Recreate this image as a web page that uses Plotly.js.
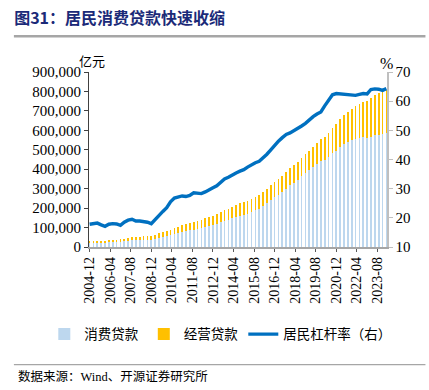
<!DOCTYPE html>
<html>
<head>
<meta charset="utf-8">
<script src="https://cdn.plot.ly/plotly-3.0.1.min.js"></script>
<style>html,body{margin:0;padding:0;background:#fff;}#chart{width:429px;height:390px;}</style>
</head>
<body>
<div id="chart"></div>
<script>
const quarters = ['2004-12',
'2005-03','2005-06','2005-09','2005-12','2006-03','2006-06','2006-09','2006-12',
'2007-03','2007-06','2007-09','2007-12','2008-03','2008-06','2008-09','2008-12',
'2009-03','2009-06','2009-09','2009-12','2010-03','2010-06','2010-09','2010-12',
'2011-03','2011-06','2011-09','2011-12','2012-03','2012-06','2012-09','2012-12',
'2013-03','2013-06','2013-09','2013-12','2014-03','2014-06','2014-09','2014-12',
'2015-03','2015-06','2015-09','2015-12','2016-03','2016-06','2016-09','2016-12',
'2017-03','2017-06','2017-09','2017-12','2018-03','2018-06','2018-09','2018-12',
'2019-03','2019-06','2019-09','2019-12','2020-03','2020-06','2020-09','2020-12',
'2021-03','2021-06','2021-09','2021-12','2022-03','2022-06','2022-09','2022-12',
'2023-03','2023-06','2023-09','2023-12','2024-03'];

// 消费贷款 (亿元)
const consumerLoans = [20000,
20200,20900,21600,21800,23200,25000,26200,27000,
29000,31800,34200,34500,36000,37300,38000,37000,
40500,47000,52500,55500,61500,67000,71500,79500,
83000,87000,90000,95000,98000,104000,109000,113000,
120000,127000,133000,140000,147000,153000,159000,164000,
170000,178000,188000,198000,211000,225000,241000,255000,
268000,283000,300000,317000,330000,346000,363000,380000,
395000,410000,426000,443000,449000,464000,482000,496000,
514000,528000,539000,549000,556000,561000,564000,563000,
568000,574000,576000,581000,584000];

// 经营贷款 (亿元)
const businessLoans = [9000,
9300,9600,9900,10200,10800,11500,12300,13000,
14000,15200,16300,17000,18000,19200,20000,20500,
21500,23000,24500,26000,27500,29000,30500,33000,
35000,37000,39000,41000,43000,45000,47000,48000,
50000,53000,56000,58000,60000,63000,65000,67000,
68000,70000,71000,72000,73000,75000,77000,79000,
81000,83000,86000,88000,90000,92000,95000,98000,
100000,104000,107000,110000,116000,124000,130000,136000,
143000,150000,156000,162000,170000,176000,182000,187000,
198000,208000,214000,220000,226000];

// 居民杠杆率 (%)
const leverage = [17.8,
18.1,18.2,17.6,17.1,17.8,18.0,17.9,17.4,
18.5,19.2,19.5,18.9,18.9,18.8,18.5,18.0,
19.5,20.8,22.2,23.5,25.5,26.8,27.3,27.5,
27.3,27.7,28.6,28.4,28.3,28.9,29.5,30.3,
31.0,32.3,33.3,33.9,34.8,35.4,36.0,36.5,
37.4,38.3,38.9,39.4,40.5,41.8,43.3,44.9,
46.3,47.5,48.6,49.1,49.8,50.6,51.5,52.4,
53.6,54.7,55.6,56.3,58.4,60.5,62.2,62.6,
62.5,62.4,62.2,62.1,62.0,62.3,62.6,62.5,
64.0,64.2,64.1,63.7,64.3];

const tickLabels = ['2004-12','2006-04','2007-08','2008-12','2010-04','2011-08','2012-12',
'2014-04','2015-08','2016-12','2018-04','2019-08','2020-12','2022-04','2023-08'];

const xDates = quarters.map(q => q + '-01');
const serif = 'Liberation Serif, Noto Sans CJK SC, serif';
const barWidth = 40 * 86400000;

const traces = [
  {type:'bar', name:'消费贷款', x:xDates, y:consumerLoans, width:barWidth,
   marker:{color:'#BDD7EE', line:{width:0}}},
  {type:'bar', name:'经营贷款', x:xDates, y:businessLoans, width:barWidth,
   marker:{color:'#FFC000', line:{width:0}}},
  {type:'scatter', mode:'lines', name:'居民杠杆率（右）', x:xDates, y:leverage, yaxis:'y2',
   line:{color:'#0070C0', width:3.4}}
];

const layout = {
  width:429, height:390,
  margin:{l:89, r:42, t:72, b:143},
  paper_bgcolor:'#fff', plot_bgcolor:'#fff',
  barmode:'stack', bargap:0,
  showlegend:true,
  font:{family:serif, size:14, color:'#000'},
  title:{text:'<b>图31：居民消费贷款快速收缩</b>', xref:'container', yref:'container',
    x:0.033, xanchor:'left', y:0.953, yanchor:'middle',
    font:{family:'Noto Sans CJK SC, sans-serif', size:16, color:'#1B2A78'}},
  xaxis:{type:'date', range:['2004-11-16','2024-03-16'],
    tickvals:tickLabels.map(t => t + '-01'), ticktext:tickLabels,
    tickangle:-90, ticks:'outside', ticklen:3, tickcolor:'#595959',
    showline:true, linecolor:'#A6A6A6', linewidth:1.5, showgrid:false, zeroline:false,
    tickfont:{family:serif, size:14, color:'#000'}},
  yaxis:{range:[0,900000], dtick:100000, tickformat:',d', ticks:'outside', ticklen:4,
    tickcolor:'#404040', showline:true, linecolor:'#404040', linewidth:1,
    showgrid:false, zeroline:false, tickfont:{family:serif, size:15, color:'#000'}},
  yaxis2:{range:[10,70], dtick:10, overlaying:'y', side:'right', ticks:'outside', ticklen:4,
    tickcolor:'#BFBFBF', showline:true, linecolor:'#BFBFBF', linewidth:1.5,
    showgrid:false, zeroline:false, tickfont:{family:serif, size:15, color:'#000'}},
  legend:{orientation:'h', xref:'paper', yref:'paper', x:-0.15, xanchor:'left',
    y:-0.499, yanchor:'middle', itemwidth:30, traceorder:'normal',
    font:{family:'Noto Sans CJK SC, sans-serif', size:13.5, color:'#000'}},
  shapes:[
    {type:'line', xref:'paper', yref:'paper', x0:-0.252, x1:1.129, y0:1.204, y1:1.204,
     line:{color:'#A6A6A6', width:2.5}},
    {type:'line', xref:'paper', yref:'paper', x0:-0.252, x1:1.129, y0:-0.672, y1:-0.672,
     line:{color:'#A6A6A6', width:1.2}}
  ],
  annotations:[
    {text:'亿元', xref:'paper', yref:'paper', x:0.01, y:1.065, xanchor:'center', yanchor:'middle',
     showarrow:false, font:{family:'Noto Sans CJK SC, sans-serif', size:13, color:'#000'}},
    {text:'%', xref:'paper', yref:'paper', x:0.997, y:1.05, xanchor:'center', yanchor:'middle',
     showarrow:false, font:{family:serif, size:16, color:'#000'}},
    {text:'数据来源：Wind、开源证券研究所', xref:'paper', yref:'paper', x:-0.245, y:-0.74,
     xanchor:'left', yanchor:'middle', showarrow:false,
     font:{family:'Liberation Serif, Noto Sans CJK SC, serif', size:12.5, color:'#000'}}
  ]
};

Plotly.newPlot('chart', traces, layout, {displayModeBar:false, staticPlot:true});
</script>
</body>
</html>
